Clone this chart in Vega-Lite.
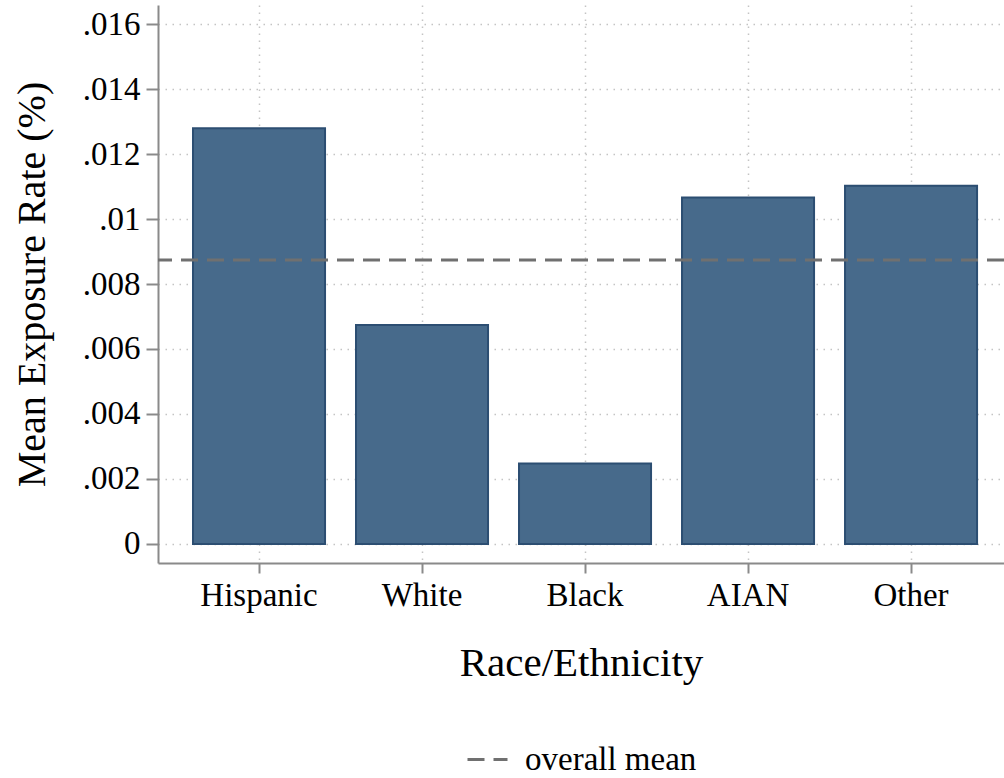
{
  "$schema": "https://vega.github.io/schema/vega-lite/v6.json",
  "autosize": {"type": "none"},
  "padding": {"left": 158, "top": 5, "right": 0, "bottom": 215},
  "width": 846,
  "height": 558,
  "background": "white",
  "config": {
    "view": {"stroke": null},
    "font": "Liberation Serif",
    "axis": {
      "labelFont": "Liberation Serif",
      "titleFont": "Liberation Serif",
      "labelColor": "black",
      "titleColor": "black",
      "labelFontSize": 33,
      "titleFontSize": 40,
      "titleFontWeight": "normal",
      "domainColor": "#8a8a8a",
      "domainWidth": 2,
      "tickColor": "#8a8a8a",
      "tickWidth": 2,
      "gridColor": "#c4c4c4",
      "gridDash": [1.5, 5.5],
      "gridWidth": 1.5
    },
    "legend": {
      "labelFont": "Liberation Serif",
      "labelFontSize": 33,
      "labelColor": "black",
      "labelLimit": 400
    }
  },
  "datasets": {
    "bars": [
      {"group": "Hispanic", "rate": 0.01279},
      {"group": "White", "rate": 0.00674},
      {"group": "Black", "rate": 0.00248},
      {"group": "AIAN", "rate": 0.01066},
      {"group": "Other", "rate": 0.01102}
    ],
    "mean": [{"label": "overall mean", "rate": 0.00874}]
  },
  "layer": [
    {
      "data": {"name": "bars"},
      "mark": {"type": "bar", "fill": "#476a8b", "stroke": "#2c4e72", "strokeWidth": 2},
      "encoding": {
        "x": {
          "field": "group",
          "type": "nominal",
          "sort": ["Hispanic", "White", "Black", "AIAN", "Other"],
          "scale": {"paddingInner": 0.19, "paddingOuter": 0.19, "align": 0.565},
          "axis": {
            "title": "Race/Ethnicity",
            "titleFontSize": 41,
            "labelAngle": 0,
            "bandPosition": 0.5,
            "grid": true,
            "tickSize": 10,
            "labelPadding": 6,
            "titlePadding": 31
          }
        },
        "y": {
          "field": "rate",
          "type": "quantitative",
          "scale": {"domain": [-0.000585, 0.016585], "nice": false, "zero": false},
          "axis": {
            "title": "Mean Exposure Rate (%)",
            "values": [0, 0.002, 0.004, 0.006, 0.008, 0.01, 0.012, 0.014, 0.016],
            "labelExpr": "datum.value == 0 ? '0' : substring(format(datum.value, '.3~f'), 1)",
            "tickSize": 12,
            "labelPadding": 6,
            "titlePadding": 30,
            "grid": true
          }
        },
        "y2": {"datum": 0}
      }
    },
    {
      "data": {"name": "mean"},
      "mark": {"type": "rule", "stroke": "#707070", "strokeWidth": 3, "strokeDash": [17, 9]},
      "encoding": {
        "y": {"field": "rate", "type": "quantitative"},
        "strokeDash": {
          "field": "label",
          "type": "nominal",
          "scale": {"range": [[17, 9]]},
          "legend": {
            "title": null,
            "orient": "none",
            "legendX": 308,
            "legendY": 733,
            "symbolType": "stroke",
            "symbolSize": 1600,
            "symbolStrokeWidth": 3,
            "symbolStrokeColor": "#707070",
            "symbolDash": [17, 7],
            "labelOffset": 16
          }
        }
      }
    }
  ]
}
